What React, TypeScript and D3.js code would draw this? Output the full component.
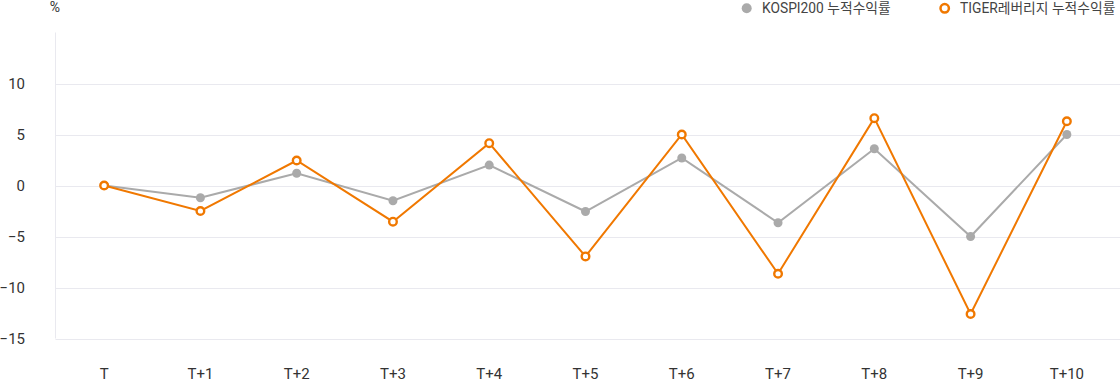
import React from "react";
import * as d3 from "d3";

const categories = ["T", "T+1", "T+2", "T+3", "T+4", "T+5", "T+6", "T+7", "T+8", "T+9", "T+10"];
const kospiValues = [0, -1.2, 1.2, -1.5, 2.0, -2.55, 2.7, -3.65, 3.6, -5.0, 5.0];
const tigerValues = [0, -2.5, 2.45, -3.55, 4.15, -6.95, 5.0, -8.65, 6.6, -12.6, 6.3];
const yTicks = [10, 5, 0, -5, -10, -15];
const seriesNames = ["KOSPI200 누적수익률", "TIGER레버리지 누적수익률"];

const W = 1120;
const H = 381;
const GRAY = "#aaaaaa";
const ORANGE = "#f07800";
const FONT = "Roboto, 'Noto Sans CJK KR', sans-serif";

export default function App() {
  const x = d3.scaleBand<string>().domain(categories).range([56, 1115]);
  const cx = (c: string) => (x(c) as number) + x.bandwidth() / 2;
  const y = d3.scaleLinear().domain([-15, 15]).range([338.5, 32.5]);
  const line = d3
    .line<number>()
    .x((_, i) => cx(categories[i]))
    .y((v) => y(v));

  return (
    <div style={{ position: "absolute", left: 0, top: 0 }}>
      <svg width={W} height={H} style={{ display: "block", fontFamily: FONT }}>
        <rect width={W} height={H} fill="#fff" />
        {yTicks.map((t) => (
          <g key={t}>
            <line x1={55.5} x2={W} y1={Math.round(y(t)) + 0.5} y2={Math.round(y(t)) + 0.5} stroke="#e9e9ef" strokeWidth={1} />
            <text x={25} y={y(t)} dy="0.36em" textAnchor="end" fontSize={15} fill="#333">
              {t < 0 ? "−" + Math.abs(t) : t}
            </text>
          </g>
        ))}
        <line x1={55.5} x2={55.5} y1={y(15)} y2={y(-15)} stroke="#e9e9ef" strokeWidth={1} />
        <text x={55} y={7} dy="0.36em" textAnchor="middle" fontSize={14} fill="#333">%</text>
        {categories.map((c) => (
          <text key={c} x={cx(c)} y={378.5} textAnchor="middle" fontSize={15} fill="#333">
            {c}
          </text>
        ))}
        <path d={line(kospiValues) || ""} fill="none" stroke={GRAY} strokeWidth={2} />
        {kospiValues.map((v, i) => (
          <circle key={"k" + i} cx={cx(categories[i])} cy={y(v)} r={4.5} fill={GRAY} />
        ))}
        <path d={line(tigerValues) || ""} fill="none" stroke={ORANGE} strokeWidth={2} />
        {tigerValues.map((v, i) => (
          <circle key={"t" + i} cx={cx(categories[i])} cy={y(v)} r={3.8} fill="#fff" stroke={ORANGE} strokeWidth={2.4} />
        ))}
        <g>
          <circle cx={746.7} cy={8.3} r={5} fill={GRAY} />
          <text x={762} y={8.3} dy="0.36em" fontSize={13.8} fill="#444">{seriesNames[0]}</text>
          <circle cx={944.7} cy={8.3} r={4.2} fill="#fff" stroke={ORANGE} strokeWidth={2.5} />
          <text x={960} y={8.3} dy="0.36em" fontSize={13.8} fill="#444">{seriesNames[1]}</text>
        </g>
      </svg>
    </div>
  );
}
